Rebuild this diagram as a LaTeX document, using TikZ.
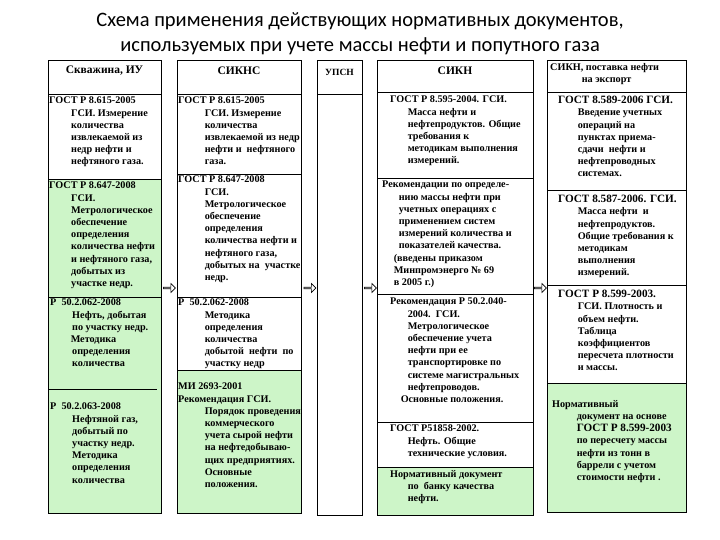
\documentclass[tikz,border=0pt]{standalone}
\usepackage{fontspec}
\setmainfont{Liberation Serif}
\newfontfamily\titlefont{Carlito}
\usetikzlibrary{shapes.arrows}
\definecolor{lgreen}{HTML}{CDF5C8}
\newcommand{\ii}[1][22pt]{\hspace*{#1}}
\begin{document}
\begin{tikzpicture}[x=1pt,y=1pt,
  cellbox/.style={draw=black,line width=0.9pt},
  txt/.style={anchor=north west,align=left,inner sep=0pt,font=\bfseries\fontsize{10.2}{12.2}\selectfont},
  hdr/.style={align=center,inner sep=0pt,font=\bfseries\fontsize{11.5}{13}\selectfont},
  arr/.style={single arrow,draw=black,fill=white,line width=0.6pt,minimum height=12pt,minimum width=9pt,single arrow head extend=1.5pt,inner sep=0pt}]
\useasboundingbox (0,0) rectangle (720,-540);
\fill[white] (0,0) rectangle (720,-540);
% title
\node[font=\titlefont\fontsize{20.5}{25}\selectfont,align=center] (title) at (360,-34) {Схема применения действующих нормативных документов,\\используемых при учете массы нефти и попутного газа};
% column 1
\draw[cellbox] (48,-60) rectangle (161,-94);
\draw[cellbox] (48,-94) rectangle (161,-179);
\draw[cellbox,fill=lgreen] (48,-179) rectangle (161,-297);
\draw[cellbox,fill=lgreen] (48,-297) rectangle (161,-513);
\draw[line width=0.9pt] (48,-389) -- (157,-389);
\node[hdr] (h1) at (104.5,-71) {Скважина, ИУ};
\node[txt] (c1a) at (49,-97) {ГОСТ Р 8.615-2005\\\ii ГСИ. Измерение\\\ii количества\\\ii извлекаемой из\\\ii недр нефти и\\\ii нефтяного газа.};
\node[txt] (c1b) at (49,-182) {ГОСТ Р 8.647-2008\\\ii ГСИ.\\\ii Метрологическое\\\ii обеспечение\\\ii определения\\\ii количества нефти\\\ii и нефтяного газа,\\\ii добытых из\\\ii участке недр.};
\node[txt] (c1c) at (50,-299) {Р\ \ 50.2.062-2008\\\ii Нефть, добытая\\\ii по участку недр.\\\ii[18pt] Методика\\\ii определения\\\ii количества};
\node[txt] (c1d) at (50,-403) {Р\ \ 50.2.063-2008\\\ii Нефтяной газ,\\\ii добытый по\\\ii участку недр.\\\ii Методика\\\ii определения\\\ii количества};
% column 2
\draw[cellbox] (177,-60) rectangle (301,-94);
\draw[cellbox] (177,-94) rectangle (301,-174);
\draw[cellbox] (177,-174) rectangle (301,-297);
\draw[cellbox] (177,-297) rectangle (301,-370);
\draw[cellbox,fill=lgreen] (177,-370) rectangle (301,-513);
\node[hdr] (h2) at (239,-71) {СИКНС};
\node[txt] (c2a) at (178,-97) {ГОСТ Р 8.615-2005\\\ii[24pt] ГСИ. Измерение\\\ii[24pt] количества\\\ii[24pt] извлекаемой из недр\\\ii[24pt] нефти и\ \ нефтяного\\\ii[24pt] газа.};
\node[txt] (c2b) at (178,-176) {ГОСТ Р 8.647-2008\\\ii[24pt] ГСИ.\\\ii[24pt] Метрологическое\\\ii[24pt] обеспечение\\\ii[24pt] определения\\\ii[24pt] количества нефти и\\\ii[24pt] нефтяного газа,\\\ii[24pt] добытых на\ \ участке\\\ii[24pt] недр.};
\node[txt] (c2c) at (178,-299) {Р\ \ 50.2.062-2008\\\ii[24pt] Методика\\\ii[24pt] определения\\\ii[24pt] количества\\\ii[24pt] добытой\ \ нефти\ \ по\\\ii[24pt] участку недр};
\node[txt] (c2d) at (178,-383) {МИ 2693-2001\\Рекомендация ГСИ.\\\ii[24pt] Порядок проведения\\\ii[24pt] коммерческого\\\ii[24pt] учета сырой нефти\\\ii[24pt] на нефтедобываю-\\\ii[24pt] щих предприятиях.\\\ii[24pt] Основные\\\ii[24pt] положения.};
% column 3
\draw[cellbox] (317,-60) rectangle (362,-94);
\draw[cellbox] (317,-94) rectangle (362,-515);
\node[hdr,font=\bfseries\fontsize{9.5}{10}\selectfont] (h3) at (339.5,-72) {УПСН};
% column 4
\draw[cellbox] (377,-60) rectangle (533,-92);
\draw[cellbox] (377,-92) rectangle (533,-178);
\draw[cellbox] (377,-178) rectangle (533,-294);
\draw[cellbox] (377,-294) rectangle (533,-422);
\draw[cellbox] (377,-422) rectangle (533,-467);
\draw[cellbox,fill=lgreen] (377,-467) rectangle (533,-515);
\node[hdr] (h4) at (455,-71) {СИКН};
\node[txt] (c4a) at (390,-96) {ГОСТ Р 8.595-2004. ГСИ.\\\ii[15pt] Масса нефти и\\\ii[15pt] нефтепродуктов. Общие\\\ii[15pt] требования к\\\ii[15pt] методикам выполнения\\\ii[15pt] измерений.};
\node[txt] (c4b) at (382,-181) {Рекомендации по определе-\\\ii[14pt] нию массы нефти при\\\ii[14pt] учетных операциях с\\\ii[14pt] применением систем\\\ii[14pt] измерений количества и\\\ii[14pt] показателей качества.\\\ii[9pt] (введены приказом\\\ii[9pt] Минпромэнерго № 69\\\ii[9pt] в 2005 г.)};
\node[txt] (c4c) at (390,-298) {Рекомендация Р 50.2.040-\\\ii[15pt] 2004.\ \ ГСИ.\\\ii[15pt] Метрологическое\\\ii[15pt] обеспечение учета\\\ii[15pt] нефти при ее\\\ii[15pt] транспортировке по\\\ii[15pt] системе магистральных\\\ii[15pt] нефтепроводов.\\\ii[8pt] Основные положения.};
\node[txt] (c4d) at (390,-425) {ГОСТ Р51858-2002.\\\ii[15pt] Нефть. Общие\\\ii[15pt] технические условия.};
\node[txt] (c4e) at (390,-470) {Нормативный документ\\\ii[15pt] по\ \ банку качества\\\ii[15pt] нефти.};
% column 5
\draw[cellbox] (547,-60) rectangle (686,-92);
\draw[cellbox] (547,-92) rectangle (686,-190);
\draw[cellbox] (547,-190) rectangle (686,-285);
\draw[cellbox] (547,-285) rectangle (686,-383);
\draw[cellbox,fill=lgreen] (547,-383) rectangle (686,-512);
\node[txt] (h5) at (550,-63) {СИКН, поставка нефти\\\ii[29pt] на экспорт};
\node[txt] (c5a) at (558,-96) {{\fontsize{11.2}{12.2}\selectfont ГОСТ 8.589-2006 ГСИ.}\\\ii[17pt] Введение учетных\\\ii[17pt] операций на\\\ii[17pt] пунктах приема-\\\ii[17pt] сдачи\ \ нефти и\\\ii[17pt] нефтепроводных\\\ii[17pt] системах.};
\node[txt] (c5b) at (558,-195) {{\fontsize{11.2}{12.2}\selectfont ГОСТ 8.587-2006. ГСИ.}\\\ii[17pt] Масса нефти\ \ и\\\ii[17pt] нефтепродуктов.\\\ii[17pt] Общие требования к\\\ii[17pt] методикам\\\ii[17pt] выполнения\\\ii[17pt] измерений.};
\node[txt] (c5c) at (558,-290) {{\fontsize{11.2}{12.2}\selectfont ГОСТ Р 8.599-2003.}\\\ii[17pt] ГСИ. Плотность и\\\ii[17pt] объем нефти.\\\ii[17pt] Таблица\\\ii[17pt] коэффициентов\\\ii[17pt] пересчета плотности\\\ii[17pt] и массы.};
\node[txt] (c5d) at (552,-400) {Нормативный\\\ii[22pt] документ на основе\\\ii[22pt] {\fontsize{11.2}{12.2}\selectfont ГОСТ Р 8.599-2003}\\\ii[22pt] по пересчету массы\\\ii[22pt] нефти из тонн в\\\ii[22pt] баррели с учетом\\\ii[22pt] стоимости нефти .};
% arrows
\node[arr] (a1) at (169,-288) {};
\node[arr] (a2) at (309.5,-288) {};
\node[arr] (a3) at (370,-288) {};
\node[arr] (a4) at (540,-288) {};
\end{tikzpicture}
\end{document}
